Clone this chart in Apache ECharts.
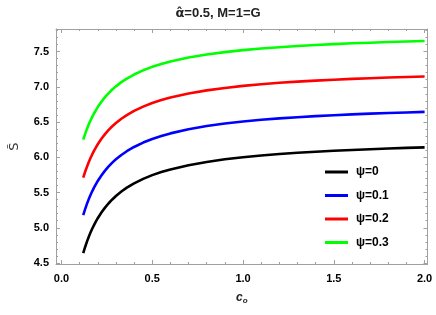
<!DOCTYPE html>
<html>
<head>
<meta charset="utf-8">
<script src="https://cdn.jsdelivr.net/npm/echarts@6/dist/echarts.min.js"></script>
<style>
html,body{margin:0;padding:0;background:#fff;}
#chart{width:436px;height:315px;}
</style>
</head>
<body>
<div id="chart"></div>
<script>
const cValues = [0.12,0.13,0.14,0.15,0.16,0.17,0.18,0.19,0.2,0.22,0.24,0.26,0.28,0.3,0.33,0.36,0.4,0.45,0.5,0.55,0.6,0.7,0.8,0.9,1.0,1.1,1.2,1.3,1.4,1.5,1.6,1.7,1.8,1.9,2.0];
const psi0  = [4.640,4.724,4.800,4.869,4.932,4.989,5.042,5.091,5.136,5.216,5.286,5.348,5.402,5.451,5.514,5.569,5.630,5.694,5.747,5.791,5.828,5.888,5.934,5.971,6.001,6.025,6.046,6.064,6.079,6.093,6.104,6.115,6.124,6.133,6.140];
const psi01 = [5.180,5.262,5.336,5.403,5.465,5.521,5.572,5.620,5.664,5.742,5.811,5.871,5.924,5.971,6.033,6.086,6.146,6.209,6.260,6.303,6.339,6.398,6.443,6.479,6.508,6.532,6.552,6.569,6.584,6.597,6.609,6.619,6.628,6.636,6.644];
const psi02 = [5.710,5.791,5.863,5.929,5.989,6.044,6.095,6.141,6.185,6.262,6.329,6.388,6.440,6.486,6.547,6.599,6.658,6.719,6.770,6.812,6.848,6.905,6.949,6.984,7.013,7.037,7.057,7.073,7.088,7.101,7.112,7.122,7.131,7.139,7.146];
const psi03 = [6.250,6.328,6.399,6.464,6.522,6.576,6.625,6.670,6.712,6.788,6.853,6.910,6.961,7.006,7.066,7.117,7.174,7.234,7.283,7.324,7.359,7.415,7.458,7.492,7.520,7.543,7.562,7.579,7.593,7.606,7.617,7.626,7.635,7.643,7.650];
const seriesNames = ['\u03C8=0','\u03C8=0.1','\u03C8=0.2','\u03C8=0.3'];
const seriesColors = ['#000000','#0000ff','#ff0000','#00ff00'];
const xMajor = [0,0.5,1.0,1.5,2.0];
const xMinor = [0.1,0.2,0.3,0.4,0.6,0.7,0.8,0.9,1.1,1.2,1.3,1.4,1.6,1.7,1.8,1.9];
const yMajor = [4.5,5.0,5.5,6.0,6.5,7.0,7.5];
const yMinor = [4.6,4.7,4.8,4.9,5.1,5.2,5.3,5.4,5.6,5.7,5.8,5.9,6.1,6.2,6.3,6.4,6.6,6.7,6.8,6.9,7.1,7.2,7.3,7.4,7.6,7.7,7.8];
const titleAlpha = '\u03B1\u0302';
const titleRest = '=0.5, M=1=G';

const allSeries = [psi0, psi01, psi02, psi03];
const frame = '#a0a0a0';
const X_MIN = -0.03, X_MAX = 2.016, Y_MIN = 4.486, Y_MAX = 7.82;
const FONT = 'Liberation Sans, Arial, sans-serif';

function xAxisDef(pos, ticks, len, showLabel, showLine, name) {
  const a = {
    type: 'value', position: pos, min: X_MIN, max: X_MAX,
    splitLine: {show: false},
    axisLine: {show: showLine, onZero: false, lineStyle: {color: frame, width: 1}},
    axisTick: {show: true, inside: true, length: len, customValues: ticks, lineStyle: {color: frame, width: 1}},
    axisLabel: {show: showLabel, customValues: ticks, margin: 9, color: '#000', fontWeight: 'bold', fontSize: 11,
      fontFamily: FONT, formatter: v => v.toFixed(1)}
  };
  if (name) {
    a.name = name; a.nameLocation = 'middle'; a.nameGap = 27;
    a.nameTextStyle = {rich: {c: {fontStyle: 'italic', fontWeight: 'bold', fontSize: 12, color: '#222', fontFamily: FONT},
      o: {fontStyle: 'italic', fontWeight: 'bold', fontSize: 8, color: '#222', verticalAlign: 'bottom', padding: [6,0,0,0], fontFamily: FONT}}};
  }
  return a;
}
function yAxisDef(pos, ticks, len, showLabel, showLine, name) {
  const a = {
    type: 'value', position: pos, min: Y_MIN, max: Y_MAX,
    splitLine: {show: false},
    axisLine: {show: showLine, onZero: false, lineStyle: {color: frame, width: 1}},
    axisTick: {show: true, inside: true, length: len, customValues: ticks, lineStyle: {color: frame, width: 1}},
    axisLabel: {show: showLabel, customValues: ticks, margin: 7, color: '#000', fontWeight: 'bold', fontSize: 11,
      fontFamily: FONT, formatter: v => v.toFixed(1)}
  };
  if (name) {
    a.name = name; a.nameLocation = 'middle'; a.nameGap = 35; a.nameRotate = 90;
    a.nameTextStyle = {fontSize: 13, color: '#333', fontFamily: 'DejaVu Sans, sans-serif'};
  }
  return a;
}

const chart = echarts.init(document.getElementById('chart'), null, {renderer: 'canvas'});
chart.setOption({
  animation: false,
  backgroundColor: '#fff',
  title: {text: '{a|' + titleAlpha + '}{r|' + titleRest + '}', left: 'center', top: 2,
    textStyle: {rich: {
      a: {fontSize: 13, fontWeight: 'bold', color: '#222', fontFamily: 'DejaVu Sans, sans-serif'},
      r: {fontSize: 13, fontWeight: 'bold', color: '#222', fontFamily: FONT}
    }}},
  grid: {left: 52, right: 8.5, top: 29, bottom: 51, containLabel: false},
  xAxis: [
    xAxisDef('bottom', xMajor, 4, true, true, '{c|c}{o|o}'),
    xAxisDef('bottom', xMinor, 2, false, false),
    xAxisDef('top', xMajor, 4, false, true),
    xAxisDef('top', xMinor, 2, false, false)
  ],
  yAxis: [
    yAxisDef('left', yMajor, 4, true, true, 'S\u0303'),
    yAxisDef('left', yMinor, 2, false, false),
    yAxisDef('right', yMajor, 4, false, true),
    yAxisDef('right', yMinor, 2, false, false)
  ],
  legend: {
    orient: 'vertical', left: 320, top: 161,
    icon: 'rect', itemWidth: 23, itemHeight: 3, itemGap: 11.5,
    textStyle: {fontSize: 12, fontWeight: 'bold', color: '#000', fontFamily: FONT, padding: [0,0,0,3]},
    data: seriesNames
  },
  series: allSeries.map((vals, i) => ({
    name: seriesNames[i], type: 'line', xAxisIndex: 0, yAxisIndex: 0,
    data: cValues.map((c, j) => [c, vals[j]]),
    showSymbol: false, symbol: 'none', smooth: false,
    lineStyle: {color: seriesColors[i], width: 2.6},
    itemStyle: {color: seriesColors[i]}
  }))
});
</script>
</body>
</html>
